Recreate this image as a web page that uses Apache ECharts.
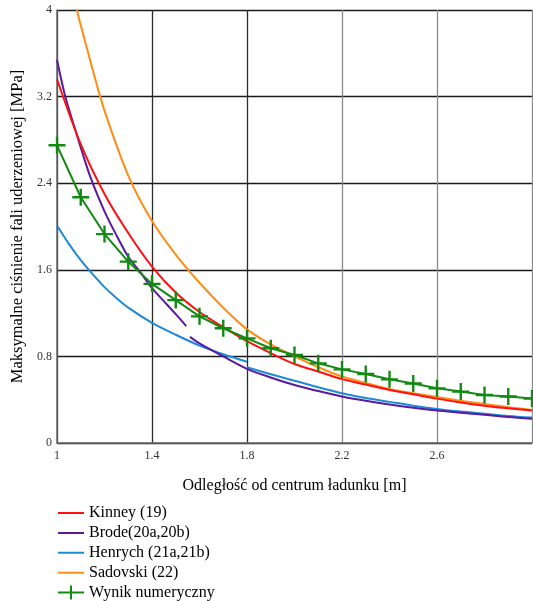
<!DOCTYPE html>
<html>
<head>
<meta charset="utf-8">
<script src="https://cdn.jsdelivr.net/npm/echarts@6/dist/echarts.min.js"></script>
<style>
html,body{margin:0;padding:0;background:#fff;}
#chart{width:533px;height:601px;}
</style>
</head>
<body>
<div id="chart"></div>
<script>
// ---- data ----
const xTitle = 'Odległość od centrum ładunku [m]';
const yTitle = 'Maksymalne ciśnienie fali uderzeniowej [MPa]';
const seriesNames = ['Kinney (19)', 'Brode(20a,20b)', 'Henrych (21a,21b)', 'Sadovski (22)', 'Wynik numeryczny'];

const gridX = [1.0,1.1,1.2,1.3,1.4,1.5,1.6,1.7,1.8,1.9,2.0,2.1,2.2,2.3,2.4,2.5,2.6,2.7,2.8,2.9,3.0];

const kinneyY = [3.36,2.76,2.30,1.94,1.63,1.39,1.21,1.07,0.94,0.83,0.73,0.66,0.59,0.54,0.49,0.45,0.41,0.375,0.345,0.32,0.30];

const brodeX1 = [1.0,1.035,1.09,1.14,1.2,1.25,1.3,1.35,1.4,1.45,1.5,1.544];
const brodeY1 = [3.54,3.2,2.80,2.46,2.14,1.92,1.72,1.58,1.43,1.31,1.19,1.08];
const brodeX2 = [1.56,1.6,1.7,1.8,1.9,2.0,2.1,2.2,2.3,2.4,2.5,2.6,2.7,2.8,2.9,3.0];
const brodeY2 = [0.98,0.92,0.80,0.685,0.605,0.535,0.48,0.43,0.39,0.355,0.325,0.30,0.28,0.26,0.24,0.225];

const henrychX1 = [1.0,1.05,1.1,1.15,1.2,1.25,1.3,1.4,1.5,1.6,1.7,1.8];
const henrychY1 = [2.01,1.84,1.69,1.56,1.44,1.34,1.25,1.11,1.00,0.90,0.82,0.75];
const henrychX2 = [1.8,1.9,2.0,2.1,2.2,2.3,2.4,2.5,2.6,2.7,2.8,2.9,3.0];
const henrychY2 = [0.70,0.635,0.575,0.515,0.46,0.415,0.38,0.345,0.315,0.29,0.27,0.25,0.235];

const sadovskiX = [1.0,1.05,1.084,1.1,1.15,1.2,1.3,1.4,1.5,1.6,1.7,1.8,1.9,2.0,2.1,2.2,2.3,2.4,2.5,2.6,2.7,2.8,2.9,3.0];
const sadovskiY = [5.0,4.45,4.0,3.86,3.45,3.07,2.47,2.05,1.74,1.48,1.25,1.05,0.91,0.80,0.70,0.615,0.555,0.50,0.46,0.425,0.39,0.36,0.33,0.305];

const numericY = [2.75,2.27,1.93,1.675,1.47,1.32,1.17,1.06,0.967,0.875,0.813,0.736,0.68,0.637,0.588,0.55,0.505,0.475,0.443,0.43,0.41];

const xMin = 1, xMax = 3, xStep = 0.4;
const yMin = 0, yMax = 4, yStep = 0.8;

// ---- build ----
function pairs(xs, ys){ return xs.map((x,i)=>[x, ys[i]]); }
const brodeData = pairs(brodeX1, brodeY1).concat([[1.552, null]], pairs(brodeX2, brodeY2));
const henrychData = pairs(henrychX1, henrychY1).concat([[1.8, null]], pairs(henrychX2, henrychY2));

const FONT = '"Liberation Serif", "Times New Roman", serif';
const plusPath = 'path://M-0.14,-1 L0.14,-1 L0.14,-0.14 L1,-0.14 L1,0.14 L0.14,0.14 L0.14,1 L-0.14,1 L-0.14,0.14 L-1,0.14 L-1,-0.14 L-0.14,-0.14 Z';
// legend icons: bounding box 26x14 kept by tiny corner specks
const lineIcon = 'path://M0,0 L0.01,0 L0.01,0.01 Z M0,6 L26,6 L26,8 L0,8 Z M25.99,14 L26,14 L26,13.99 Z';
const plusIcon = 'path://M0,0 L0.01,0 L0.01,0.01 Z M0,6 L26,6 L26,8 L0,8 Z M12,0 L14,0 L14,14 L12,14 Z M25.99,14 L26,14 L26,13.99 Z';

const colors = ['#ff1010', '#5a1aa0', '#1e8ad6', '#ff8c14', '#128a12'];

const chart = echarts.init(document.getElementById('chart'), null, {renderer:'canvas'});
chart.setOption({
  animation: false,
  backgroundColor: '#fff',
  textStyle: {fontFamily: FONT},
  grid: {left: 57, right: 1, top: 10, bottom: 158, containLabel: false, outerBoundsMode: 'none'},
  legend: {
    orient: 'vertical',
    left: 58, top: 505, padding: 0,
    itemWidth: 26, itemHeight: 14, itemGap: 3.9,
    textStyle: {fontFamily: FONT, fontSize: 16, color: '#000'},
    data: seriesNames.map((n, i) => ({name: n, icon: i === 4 ? plusIcon : lineIcon, itemStyle: {color: colors[i]}}))
  },
  xAxis: {
    type: 'value', min: xMin, max: xMax, interval: xStep,
    name: xTitle, nameLocation: 'middle', nameGap: 35,
    nameTextStyle: {fontFamily: FONT, fontSize: 16, color: '#000'},
    axisLine: {show: true, lineStyle: {color: '#6a6a6a', width: 1.5}},
    axisTick: {show: false},
    axisLabel: {showMaxLabel: false, fontFamily: FONT, fontSize: 12, color: '#333', margin: 7},
    splitLine: {show: true, lineStyle: {color: ['#2a2a2a','#2a2a2a','#2a2a2a','#8a8a8a','#8a8a8a','#8a8a8a'], width: 1.3}}
  },
  yAxis: {
    type: 'value', min: yMin, max: yMax, interval: yStep,
    name: yTitle, nameLocation: 'middle', nameGap: 30, nameRotate: 90,
    nameTextStyle: {fontFamily: FONT, fontSize: 16.5, color: '#000'},
    axisLine: {show: true, lineStyle: {color: '#6a6a6a', width: 1.5}},
    axisTick: {show: false},
    axisLabel: {fontFamily: FONT, fontSize: 12, color: '#333', margin: 5},
    splitLine: {show: true, lineStyle: {color: '#1a1a1a', width: 1.3}}
  },
  series: [
    {name: seriesNames[0], type: 'line', data: pairs(gridX, kinneyY), smooth: 0.3, showSymbol: false, symbol: 'none',
     lineStyle: {color: colors[0], width: 2}, itemStyle: {color: colors[0]}, z: 4},
    {name: seriesNames[1], type: 'line', data: brodeData, smooth: 0.3, connectNulls: false, showSymbol: false, symbol: 'none',
     lineStyle: {color: colors[1], width: 2}, itemStyle: {color: colors[1]}, z: 3},
    {name: seriesNames[2], type: 'line', data: henrychData, smooth: 0.3, connectNulls: false, showSymbol: false, symbol: 'none',
     lineStyle: {color: colors[2], width: 2}, itemStyle: {color: colors[2]}, z: 2},
    {name: seriesNames[3], type: 'line', data: pairs(sadovskiX, sadovskiY), smooth: 0.3, showSymbol: false, symbol: 'none',
     lineStyle: {color: colors[3], width: 2}, itemStyle: {color: colors[3]}, z: 3},
    {name: seriesNames[4], type: 'line', data: pairs(gridX, numericY), smooth: false,
     symbol: plusPath, symbolSize: 17, showSymbol: true,
     lineStyle: {color: colors[4], width: 2}, itemStyle: {color: colors[4]}, z: 5}
  ]
});
</script>
</body>
</html>
